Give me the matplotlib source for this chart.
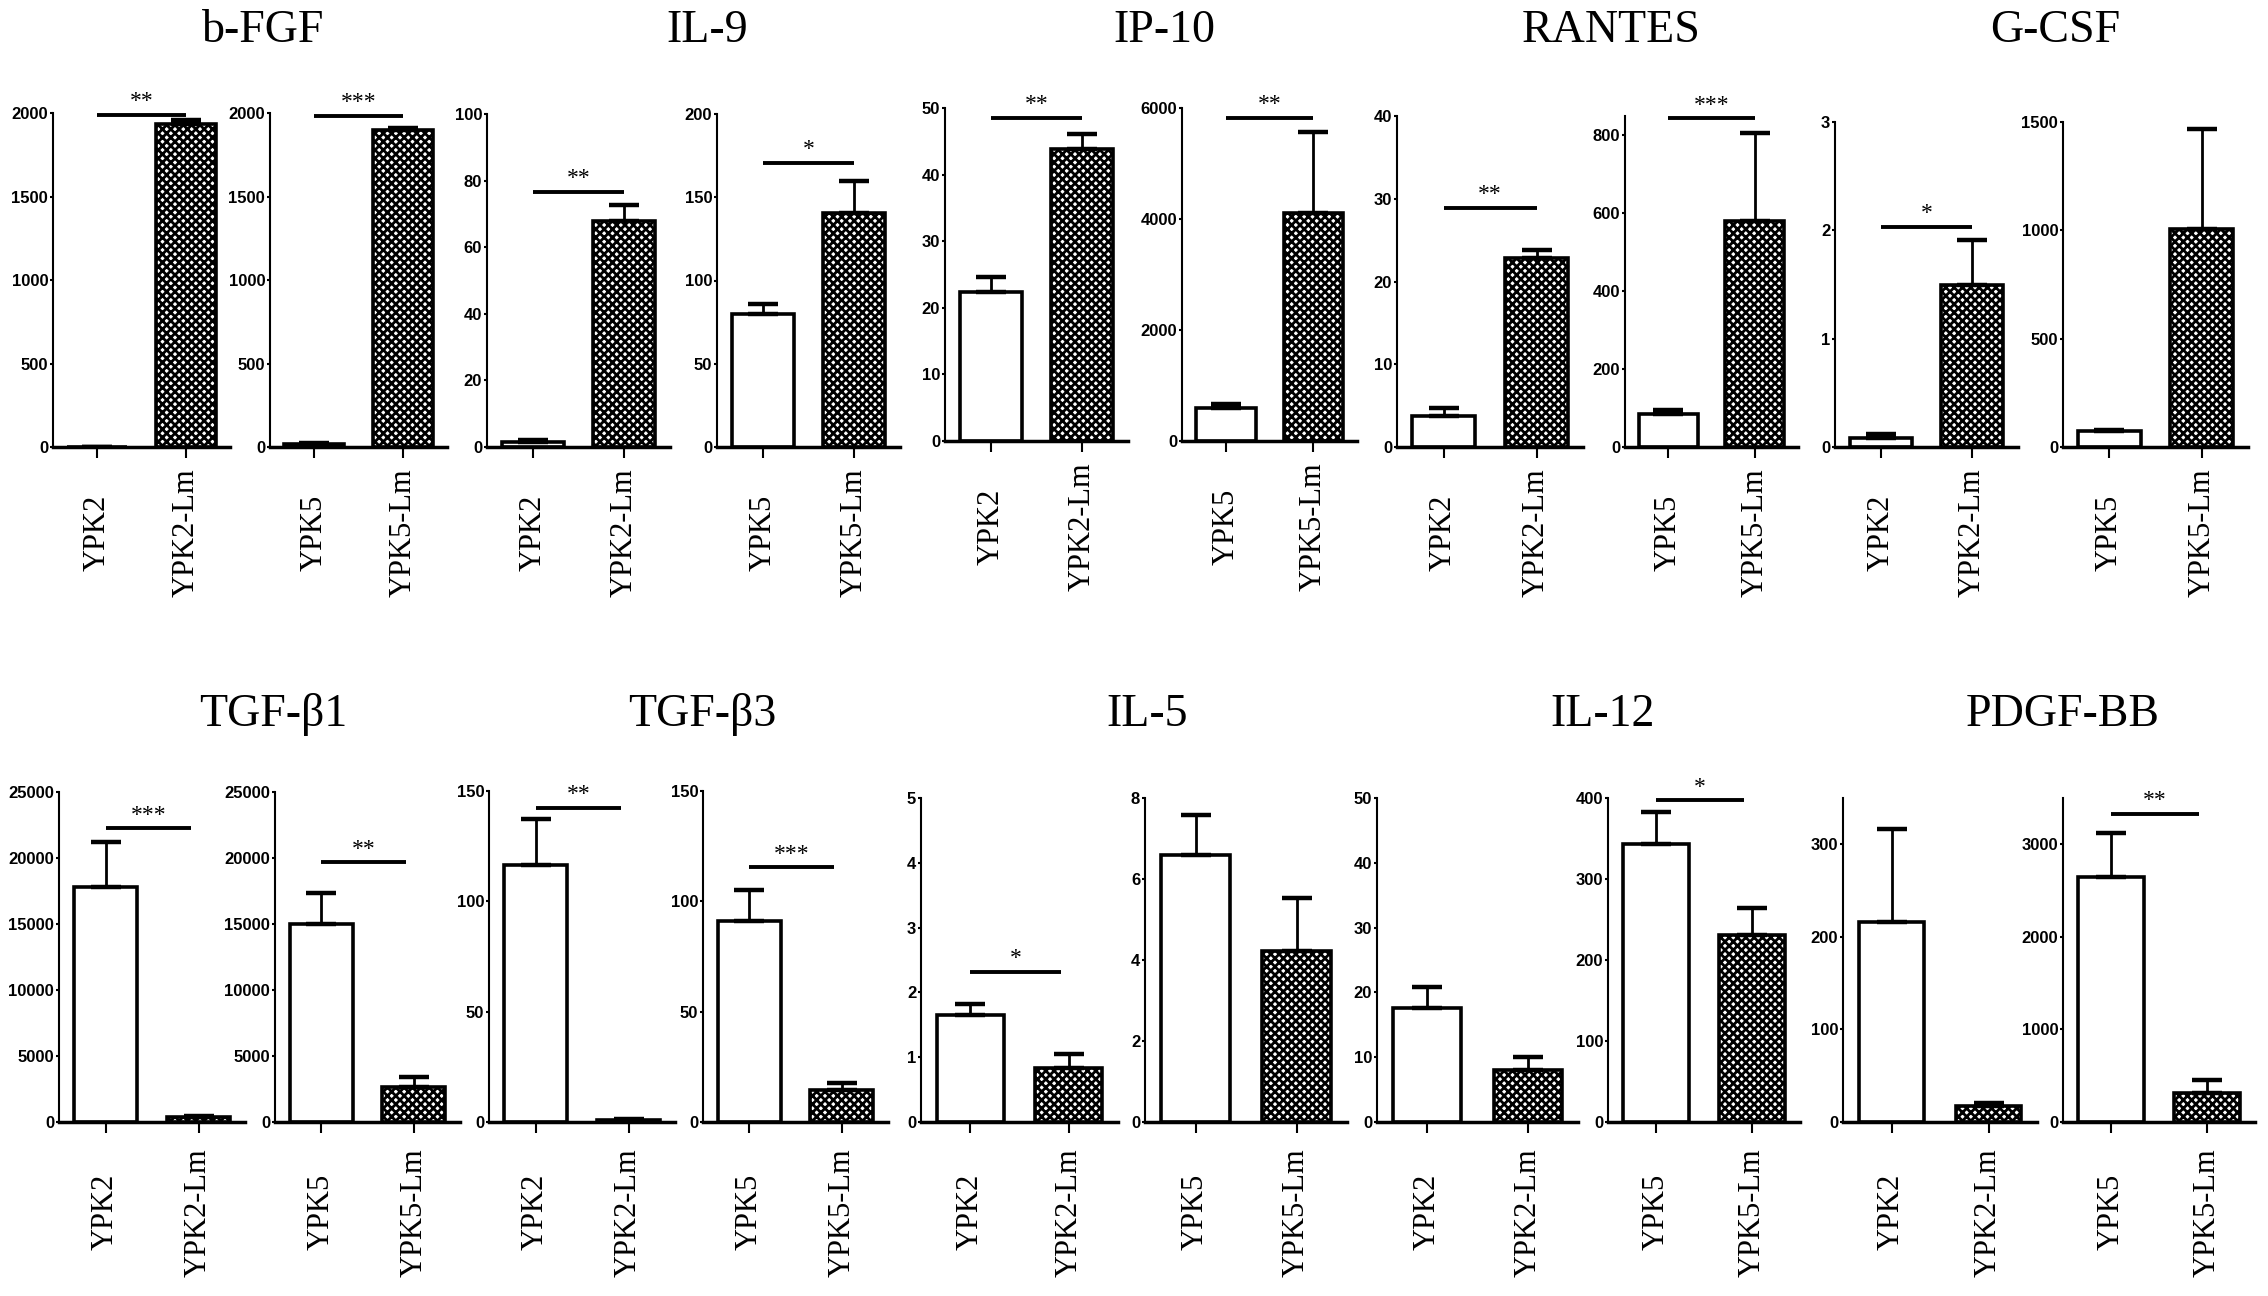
import numpy as np
import matplotlib
matplotlib.use("Agg")
import matplotlib.pyplot as plt

# cytokine panels: each has a YPK2 pair and a YPK5 pair
cytokines = ["b-FGF", "IL-9", "IP-10", "RANTES", "G-CSF",
             "TGF-β1", "TGF-β3", "IL-5", "IL-12", "PDGF-BB"]

ypk2_mean = [0, 1.5, 22.4, 3.7, 0.08, 17830, 116.5, 1.65, 17.6, 216]
ypk2_err = [0, 0.5, 2.2, 1.0, 0.04, 3400, 21, 0.17, 3.2, 100]
ypk2lm_mean = [1935, 68, 43.8, 22.8, 1.5, 370, 1.0, 0.84, 8.05, 17]
ypk2lm_err = [22, 4.8, 2.3, 1.0, 0.41, 80, 0.4, 0.21, 2.05, 4]

ypk5_mean = [20, 80, 596, 85, 73, 14980, 91.2, 6.59, 343, 2646]
ypk5_err = [5, 6, 64, 9, 7, 2390, 13.8, 0.99, 40, 472]
ypk5lm_mean = [1897, 140.4, 4100, 580, 1008, 2670, 14.3, 4.22, 231, 315]
ypk5lm_err = [15, 19.6, 1460, 226, 458, 730, 3.3, 1.32, 33, 144]

ypk2_ymax = [2000, 100, 50, 40, 3, 25000, 150, 5, 50, 350]
ypk2_ystep = [500, 20, 10, 10, 1, 5000, 50, 1, 10, 100]
ypk5_ymax = [2000, 200, 6000, 850, 1500, 25000, 150, 8, 400, 3500]
ypk5_ystep = [500, 50, 2000, 200, 500, 5000, 50, 2, 100, 1000]

ypk2_sig = ["**", "**", "**", "**", "*", "***", "**", "*", "", ""]
ypk2_sig_y = [1990, 76.5, 48.5, 28.9, 2.03, 22240, 142.3, 2.32, 0, 0]
ypk5_sig = ["***", "*", "**", "***", "", "**", "***", "", "*", "**"]
ypk5_sig_y = [1985, 170.6, 5824, 844, 0, 19670, 115.4, 0, 397, 3330]

labels2 = ["YPK2", "YPK2-Lm"]
labels5 = ["YPK5", "YPK5-Lm"]

# layout in pixels
W, H = 2268, 1296
row1_x = [(53, 230), (270, 447), (487, 670), (717, 900), (945, 1128),
          (1182, 1357), (1397, 1583), (1625, 1798), (1835, 2018), (2063, 2248)]
row2_x = [(59, 245), (275, 460), (489, 675), (703, 888), (921, 1118),
          (1145, 1347), (1377, 1578), (1608, 1800), (1843, 2037), (2063, 2255)]
pair_zero = [447, 447, 441, 447, 447, 1122, 1122, 1122, 1122, 1122]
pair_top = [113, 114, 108, 116, 122, 792, 791, 798, 798, 798]
title_y = [31, 715]
label_pad = [54, 57]

plt.rcParams["hatch.linewidth"] = 2.0
serif = ["Liberation Serif", "DejaVu Serif"]
sans = ["Liberation Sans", "DejaVu Sans"]

fig = plt.figure(figsize=(W / 100, H / 100), dpi=100)


def draw_panel(ax, means, errs, labels, ymax, ystep, sig, sig_y, sig_end, pad):
    x = np.arange(2)
    ax.bar(x[0], means[0], width=0.68, color="white", edgecolor="black",
           linewidth=2.6, zorder=2)
    ax.bar(x[1], means[1], width=0.68, color="white", edgecolor="black",
           hatch="xxxx", linewidth=2.6, zorder=2)
    ax.errorbar(x, means, yerr=[[0, 0], errs], fmt="none", ecolor="black",
                elinewidth=2, capsize=11, capthick=3.2, zorder=3)
    ax.set_xlim(-0.5, 1.5)
    ax.set_ylim(0, ymax)
    ax.set_yticks(np.arange(0, ymax + 1e-9, ystep))
    ax.set_xticks(x)
    ax.set_xticklabels(labels, rotation=90, va="center", ha="center",
                       fontsize=22, family=serif)
    for t in ax.get_yticklabels():
        t.set_family(sans)
        t.set_fontweight("bold")
        t.set_fontsize(12)
    ax.tick_params(axis="x", direction="out", length=8, width=1.5, pad=pad)
    ax.tick_params(axis="y", direction="out", length=2.5, width=1.5, pad=1)
    for s in ["top", "right"]:
        ax.spines[s].set_visible(False)
    ax.spines["left"].set_linewidth(1.5)
    ax.spines["bottom"].set_linewidth(2.5)
    if sig:
        ax.plot([0, sig_end], [sig_y, sig_y], color="black", lw=2.8,
                solid_capstyle="butt", clip_on=False)
        ax.annotate(sig, xy=(sig_end / 2, sig_y), xytext=(0, 2),
                    textcoords="offset points", ha="center", va="bottom",
                    fontsize=17, family=serif, annotation_clip=False)


for i, name in enumerate(cytokines):
    row = 0 if i < 5 else 1
    col = i % 5
    xs = row1_x if row == 0 else row2_x
    bottom, top = pair_zero[i], pair_top[i]
    sig_end = 1.0 if row == 0 else 0.92
    for k in range(2):
        l, r = xs[2 * col + k]
        ax = fig.add_axes([l / W, 1 - bottom / H, (r - l) / W, (bottom - top) / H])
        if k == 0:
            draw_panel(ax, [ypk2_mean[i], ypk2lm_mean[i]], [ypk2_err[i], ypk2lm_err[i]],
                       labels2, ypk2_ymax[i], ypk2_ystep[i], ypk2_sig[i],
                       ypk2_sig_y[i], sig_end, label_pad[row])
        else:
            draw_panel(ax, [ypk5_mean[i], ypk5lm_mean[i]], [ypk5_err[i], ypk5lm_err[i]],
                       labels5, ypk5_ymax[i], ypk5_ystep[i], ypk5_sig[i],
                       ypk5_sig_y[i], sig_end, label_pad[row])
    l = xs[2 * col][0]
    r = xs[2 * col + 1][1]
    fig.text((l + r) / 2 / W + 0.006, 1 - title_y[row] / H, name, ha="center",
             va="center", fontsize=33, family=serif)

fig.savefig("out.png", dpi=100)
